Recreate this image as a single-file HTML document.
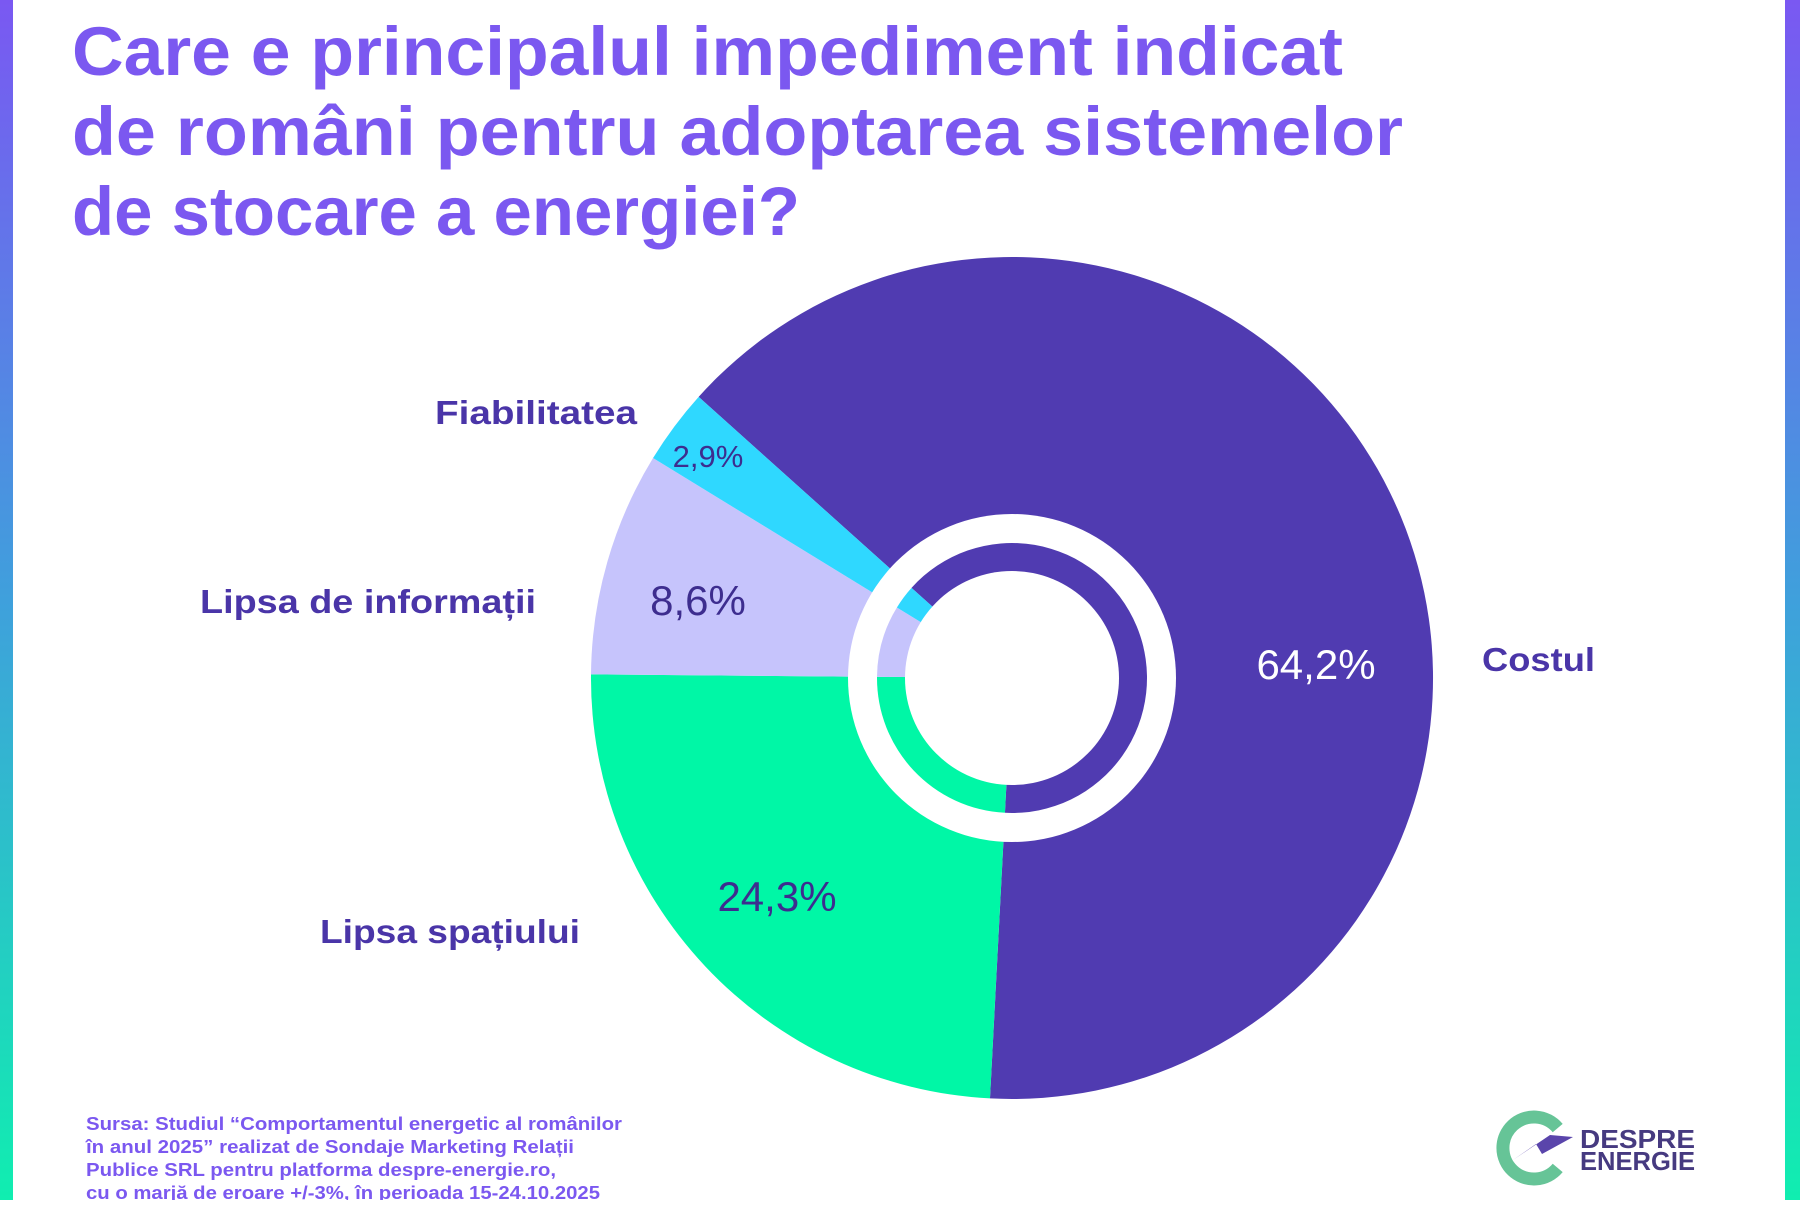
<!DOCTYPE html>
<html><head><meta charset="utf-8"><style>
html,body{margin:0;padding:0;background:#fff;}
body{width:1800px;height:1200px;overflow:hidden;position:relative;}
</style></head><body>
<svg width="1800" height="1200" viewBox="0 0 1800 1200" xmlns="http://www.w3.org/2000/svg">
<defs>
<linearGradient id="bg" x1="0" y1="0" x2="0" y2="1">
<stop offset="0" stop-color="#7a58f2"/><stop offset="0.5" stop-color="#3fa0dc"/><stop offset="1" stop-color="#10eeb0"/>
</linearGradient>
<g id="pie">
<path d="M0 0 L-0.7443 -0.6678 A1 1 0 1 1 -0.0523 0.9986 Z" fill="#503bb1"/>
<path d="M0 0 L-0.0523 0.9986 A1 1 0 0 1 -1 -0.0087 Z" fill="#00f7a6"/>
<path d="M0 0 L-1 -0.0087 A1 1 0 0 1 -0.8526 -0.5225 Z" fill="#c6c4fc"/>
<path d="M0 0 L-0.8526 -0.5225 A1 1 0 0 1 -0.7443 -0.6678 Z" fill="#2fd8ff"/>
</g>
</defs>
<rect x="0" y="0" width="13" height="1200" fill="url(#bg)"/>
<rect x="1785" y="0" width="15" height="1200" fill="url(#bg)"/>
<g font-family="Liberation Sans, sans-serif" font-weight="bold" fill="#7b58f0" font-size="69" lengthAdjust="spacingAndGlyphs">
<text x="72" y="75" textLength="1271" lengthAdjust="spacingAndGlyphs">Care e principalul impediment indicat</text>
<text x="72" y="155" textLength="1331" lengthAdjust="spacingAndGlyphs">de români pentru adoptarea sistemelor</text>
<text x="72" y="235" textLength="728" lengthAdjust="spacingAndGlyphs">de stocare a energiei?</text>
</g>
<use href="#pie" transform="translate(1012 678) scale(421)"/>
<circle cx="1012" cy="678" r="164" fill="#fff"/>
<use href="#pie" transform="translate(1012 678) scale(135)"/>
<circle cx="1012" cy="678" r="107" fill="#fff"/>
<g font-family="Liberation Sans, sans-serif" font-weight="bold" fill="#4a35a8" font-size="33">
<text x="435" y="424" textLength="202" lengthAdjust="spacingAndGlyphs">Fiabilitatea</text>
<text x="200" y="613" textLength="336" lengthAdjust="spacingAndGlyphs">Lipsa de informații</text>
<text x="320" y="943" textLength="260" lengthAdjust="spacingAndGlyphs">Lipsa spațiului</text>
<text x="1482" y="671" textLength="113" lengthAdjust="spacingAndGlyphs">Costul</text>
</g>
<g font-family="Liberation Sans, sans-serif" text-anchor="middle">
<text x="1316" y="679" font-size="42" fill="#fff">64,2%</text>
<text x="777" y="911" font-size="42" fill="#3d2d8f">24,3%</text>
<text x="698" y="615" font-size="42" fill="#3d2d8f">8,6%</text>
<text x="708" y="467" font-size="31" fill="#3d2d8f">2,9%</text>
</g>
<g font-family="Liberation Sans, sans-serif" font-weight="bold" fill="#7b58f0" font-size="18">
<text x="86" y="1130" textLength="536" lengthAdjust="spacingAndGlyphs">Sursa: Studiul “Comportamentul energetic al românilor</text>
<text x="86" y="1153" textLength="488" lengthAdjust="spacingAndGlyphs">în anul 2025” realizat de Sondaje Marketing Relații</text>
<text x="86" y="1176" textLength="470" lengthAdjust="spacingAndGlyphs">Publice SRL pentru platforma despre-energie.ro,</text>
<text x="86" y="1199" textLength="514" lengthAdjust="spacingAndGlyphs">cu o marjă de eroare +/-3%, în perioada 15-24.10.2025</text>
</g>
<g transform="translate(1450 1050)">
<path d="M107.7 78.1 A31 31 0 1 0 107.7 117.9" fill="none" stroke="#66c497" stroke-width="13"/>
<path d="M63 110 L86 94 L92 104 L123 87 L100 85 Z" fill="#5a45ab"/>
<g font-family="Liberation Sans, sans-serif" font-weight="bold" fill="#463a80" font-size="26">
<text x="130" y="98" textLength="115" lengthAdjust="spacingAndGlyphs">DESPRE</text>
<text x="130" y="120" textLength="115" lengthAdjust="spacingAndGlyphs">ENERGIE</text>
</g>
</g>
</svg>
</body></html>
